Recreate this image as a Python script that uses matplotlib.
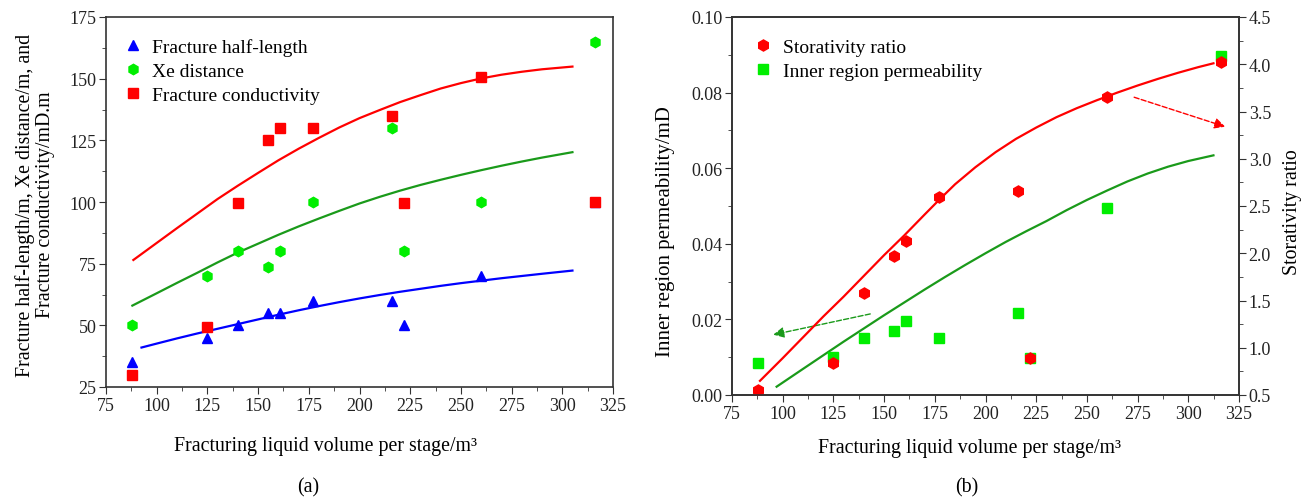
"""Fracturing parameters vs. liquid volume per stage, panels (a) and (b)."""
import matplotlib
matplotlib.use('Agg')
import matplotlib.pyplot as plt
from matplotlib.ticker import MultipleLocator, FormatStrFormatter

# ---- panel (a) data ----
vol_a = [88, 125, 140, 155, 161, 177, 216, 222, 260, 316]
half_length = [35, 45, 50, 55, 55, 60, 60, 50, 70, 100]
xe_distance = [50, 70, 80, 73.5, 80, 100, 130, 80, 100, 165]
conductivity = [30, 49.5, 99.5, 125, 130, 130, 135, 99.5, 150.5, 100]

# fitted trend lines
fit_hl_x = [92.5, 100, 110, 120, 130, 140, 150, 160, 170, 180, 190, 200, 210, 220,
            230, 240, 250, 260, 270, 280, 290, 305]
fit_hl_y = [41, 42.6, 44.7, 46.7, 48.6, 50.5, 52.4, 54.3, 56.1, 57.8, 59.4, 60.9, 62.3, 63.6,
            64.8, 66, 67.1, 68.1, 69.1, 70, 70.9, 72.2]
fit_xe_x = [88, 100, 110, 120, 130, 140, 150, 160, 170, 180, 190, 200, 210, 220,
            230, 240, 250, 260, 270, 280, 290, 305]
fit_xe_y = [58, 63, 67.2, 71.3, 75.5, 79.5, 83.1, 86.7, 90.1, 93.3, 96.4, 99.4, 102.1, 104.6,
            106.9, 109, 111, 112.9, 114.7, 116.4, 118, 120.2]
fit_fc_x = [88.5, 100, 110, 120, 130, 140, 150, 160, 170, 180, 190, 200, 210, 220,
            230, 240, 250, 260, 270, 280, 290, 305]
fit_fc_y = [76.5, 83.4, 89.4, 95.3, 101.2, 106.6, 111.8, 116.9, 121.6, 126.0, 130.2, 134.0, 137.3, 140.5,
            143.3, 146.0, 148.2, 150.1, 151.6, 152.8, 153.8, 154.9]

# ---- panel (b) data ----
vol_b = [88, 125, 140, 155, 161, 177, 216, 222, 260, 316]
inner_perm = [0.0085, 0.010, 0.015, 0.017, 0.0197, 0.015, 0.0217, 0.0098, 0.0496, 0.0897]
storativity = [0.55, 0.84, 1.58, 1.97, 2.13, 2.60, 2.66, 0.89, 3.65, 4.02]

fit_perm_x = [97, 110, 120, 130, 140, 150, 160, 170, 180, 190, 200, 210, 220,
              230, 240, 250, 260, 270, 280, 290, 300, 312.4]
fit_perm_y = [0.0022, 0.0069, 0.0105, 0.0141, 0.0176, 0.0211, 0.0245, 0.0279, 0.0312, 0.0344,
              0.0375, 0.0405, 0.0433, 0.0460, 0.0489, 0.0516, 0.0541, 0.0565, 0.0586, 0.0604,
              0.0619, 0.0634]
fit_stor_x = [88.8, 100, 110, 120, 130, 140, 150, 160, 170, 177.6, 185, 195, 205, 215,
              225, 235, 245, 255, 265, 275, 285, 295, 305, 312.4]
fit_stor_y = [0.65, 0.89, 1.11, 1.33, 1.54, 1.76, 1.98, 2.19, 2.41, 2.575, 2.73, 2.91, 3.07, 3.21,
              3.33, 3.44, 3.535, 3.62, 3.70, 3.775, 3.845, 3.91, 3.97, 4.01]

XLABEL = 'Fracturing liquid volume per stage/m\u00b3'

RED = '#ff0000'
BLUE = '#0000ff'
LIME = '#00ee00'
DKGREEN = '#1a9a1a'
SPINE = '#333333'

plt.rcParams.update({
    'font.family': ['Liberation Serif', 'DejaVu Serif'],
    'font.size': 13,
    'xtick.direction': 'out',
    'ytick.direction': 'out',
    'xtick.major.size': 5,
    'ytick.major.size': 5,
    'xtick.minor.size': 3,
    'ytick.minor.size': 3,
    'axes.linewidth': 1.2,
})

W, H = 1308, 502
fig = plt.figure(figsize=(W / 100, H / 100), dpi=100)


def rect(x0, x1, y0, y1):
    return [x0 / W, 1 - y1 / H, (x1 - x0) / W, (y1 - y0) / H]


def style(ax):
    for s in ax.spines.values():
        s.set_color(SPINE)
    ax.tick_params(which='both', colors=SPINE, labelcolor='#222222', labelsize=13)
    ax.tick_params(axis='both', which='major', pad=2)


# =========================================
# (a)
# =========================================
ax1 = fig.add_axes(rect(106, 613, 18, 388))
ax1.plot(fit_fc_x, fit_fc_y, color=RED, lw=1.6)
ax1.plot(fit_xe_x, fit_xe_y, color=DKGREEN, lw=1.6)
ax1.plot(fit_hl_x, fit_hl_y, color=BLUE, lw=1.6)
ax1.plot(vol_a, half_length, '^', color=BLUE, ms=7.5, ls='none', label='Fracture half-length')
ax1.plot(vol_a, xe_distance, 'h', color=LIME, ms=7.5, ls='none', label='Xe distance')
ax1.plot(vol_a, conductivity, 's', color=RED, ms=7, ls='none', label='Fracture conductivity')
ax1.set_xlim(75, 325)
ax1.set_ylim(25, 175)
ax1.xaxis.set_major_locator(MultipleLocator(25))
ax1.xaxis.set_minor_locator(MultipleLocator(12.5))
ax1.yaxis.set_major_locator(MultipleLocator(25))
ax1.yaxis.set_minor_locator(MultipleLocator(12.5))
ax1.tick_params(top=False, right=False, which='both')
style(ax1)
ax1.legend(loc='upper left', bbox_to_anchor=(-0.008, 0.99), frameon=False, fontsize=14,
           handletextpad=0.3, labelspacing=0.32, handlelength=1.4, borderaxespad=0.5)

fig.text(35 / W, 1 - 205 / H,
         'Fracture half-length/m, Xe distance/m, and\nFracture conductivity/mD.m',
         rotation=90, ha='center', va='center', fontsize=14.3, linespacing=1.05,
         multialignment='center')
fig.text(325 / W, 1 - 447 / H, XLABEL, ha='center', va='center', fontsize=14.3)

# =========================================
# (b)
# =========================================
ax2 = fig.add_axes(rect(732, 1239, 18, 396))
ax3 = ax2.twinx()
ax2.plot(fit_perm_x, fit_perm_y, color=DKGREEN, lw=1.6)
ax3.plot(fit_stor_x, fit_stor_y, color=RED, lw=1.6)
h_perm, = ax2.plot(vol_b, inner_perm, 's', color=LIME, ms=7.5, ls='none')
h_stor, = ax3.plot(vol_b, storativity, 'h', color=RED, ms=8, ls='none')
ax2.annotate('', xy=(94, 0.0158), xytext=(144.5, 0.0216),
             arrowprops=dict(arrowstyle='-|>', color=DKGREEN, ls='--', lw=1, mutation_scale=16))
ax3.annotate('', xy=(319.5, 3.33), xytext=(272, 3.66),
             arrowprops=dict(arrowstyle='-|>', color=RED, ls='--', lw=1, mutation_scale=16))
ax2.set_xlim(75, 325)
ax2.set_ylim(0, 0.10)
ax3.set_ylim(0.5, 4.5)
ax2.xaxis.set_major_locator(MultipleLocator(25))
ax2.xaxis.set_minor_locator(MultipleLocator(12.5))
ax2.yaxis.set_major_locator(MultipleLocator(0.02))
ax2.yaxis.set_minor_locator(MultipleLocator(0.01))
ax2.yaxis.set_major_formatter(FormatStrFormatter('%.2f'))
ax3.yaxis.set_major_locator(MultipleLocator(0.5))
ax3.yaxis.set_minor_locator(MultipleLocator(0.25))
ax3.yaxis.set_major_formatter(FormatStrFormatter('%.1f'))
ax2.tick_params(top=False, which='both')
style(ax2)
style(ax3)
ax3.legend([h_stor, h_perm], ['Storativity ratio', 'Inner region permeability'],
           loc='upper left', bbox_to_anchor=(0.0, 0.99), frameon=False, fontsize=14,
           handletextpad=0.3, labelspacing=0.32, handlelength=1.4, borderaxespad=0.5)

fig.text(666 / W, 1 - 232 / H, 'Inner region permeability/mD', rotation=90,
         ha='center', va='center', fontsize=15)
fig.text(1292 / W, 1 - 212 / H, 'Storativity ratio', rotation=90,
         ha='center', va='center', fontsize=14.3)
fig.text(970 / W, 1 - 449 / H, XLABEL, ha='center', va='center', fontsize=14.3)

fig.text(308 / W, 1 - 488 / H, '(a)', ha='center', va='center', fontsize=14.3)
fig.text(967 / W, 1 - 488 / H, '(b)', ha='center', va='center', fontsize=14.3)

plt.savefig('out.png', dpi=100)
plt.close()
